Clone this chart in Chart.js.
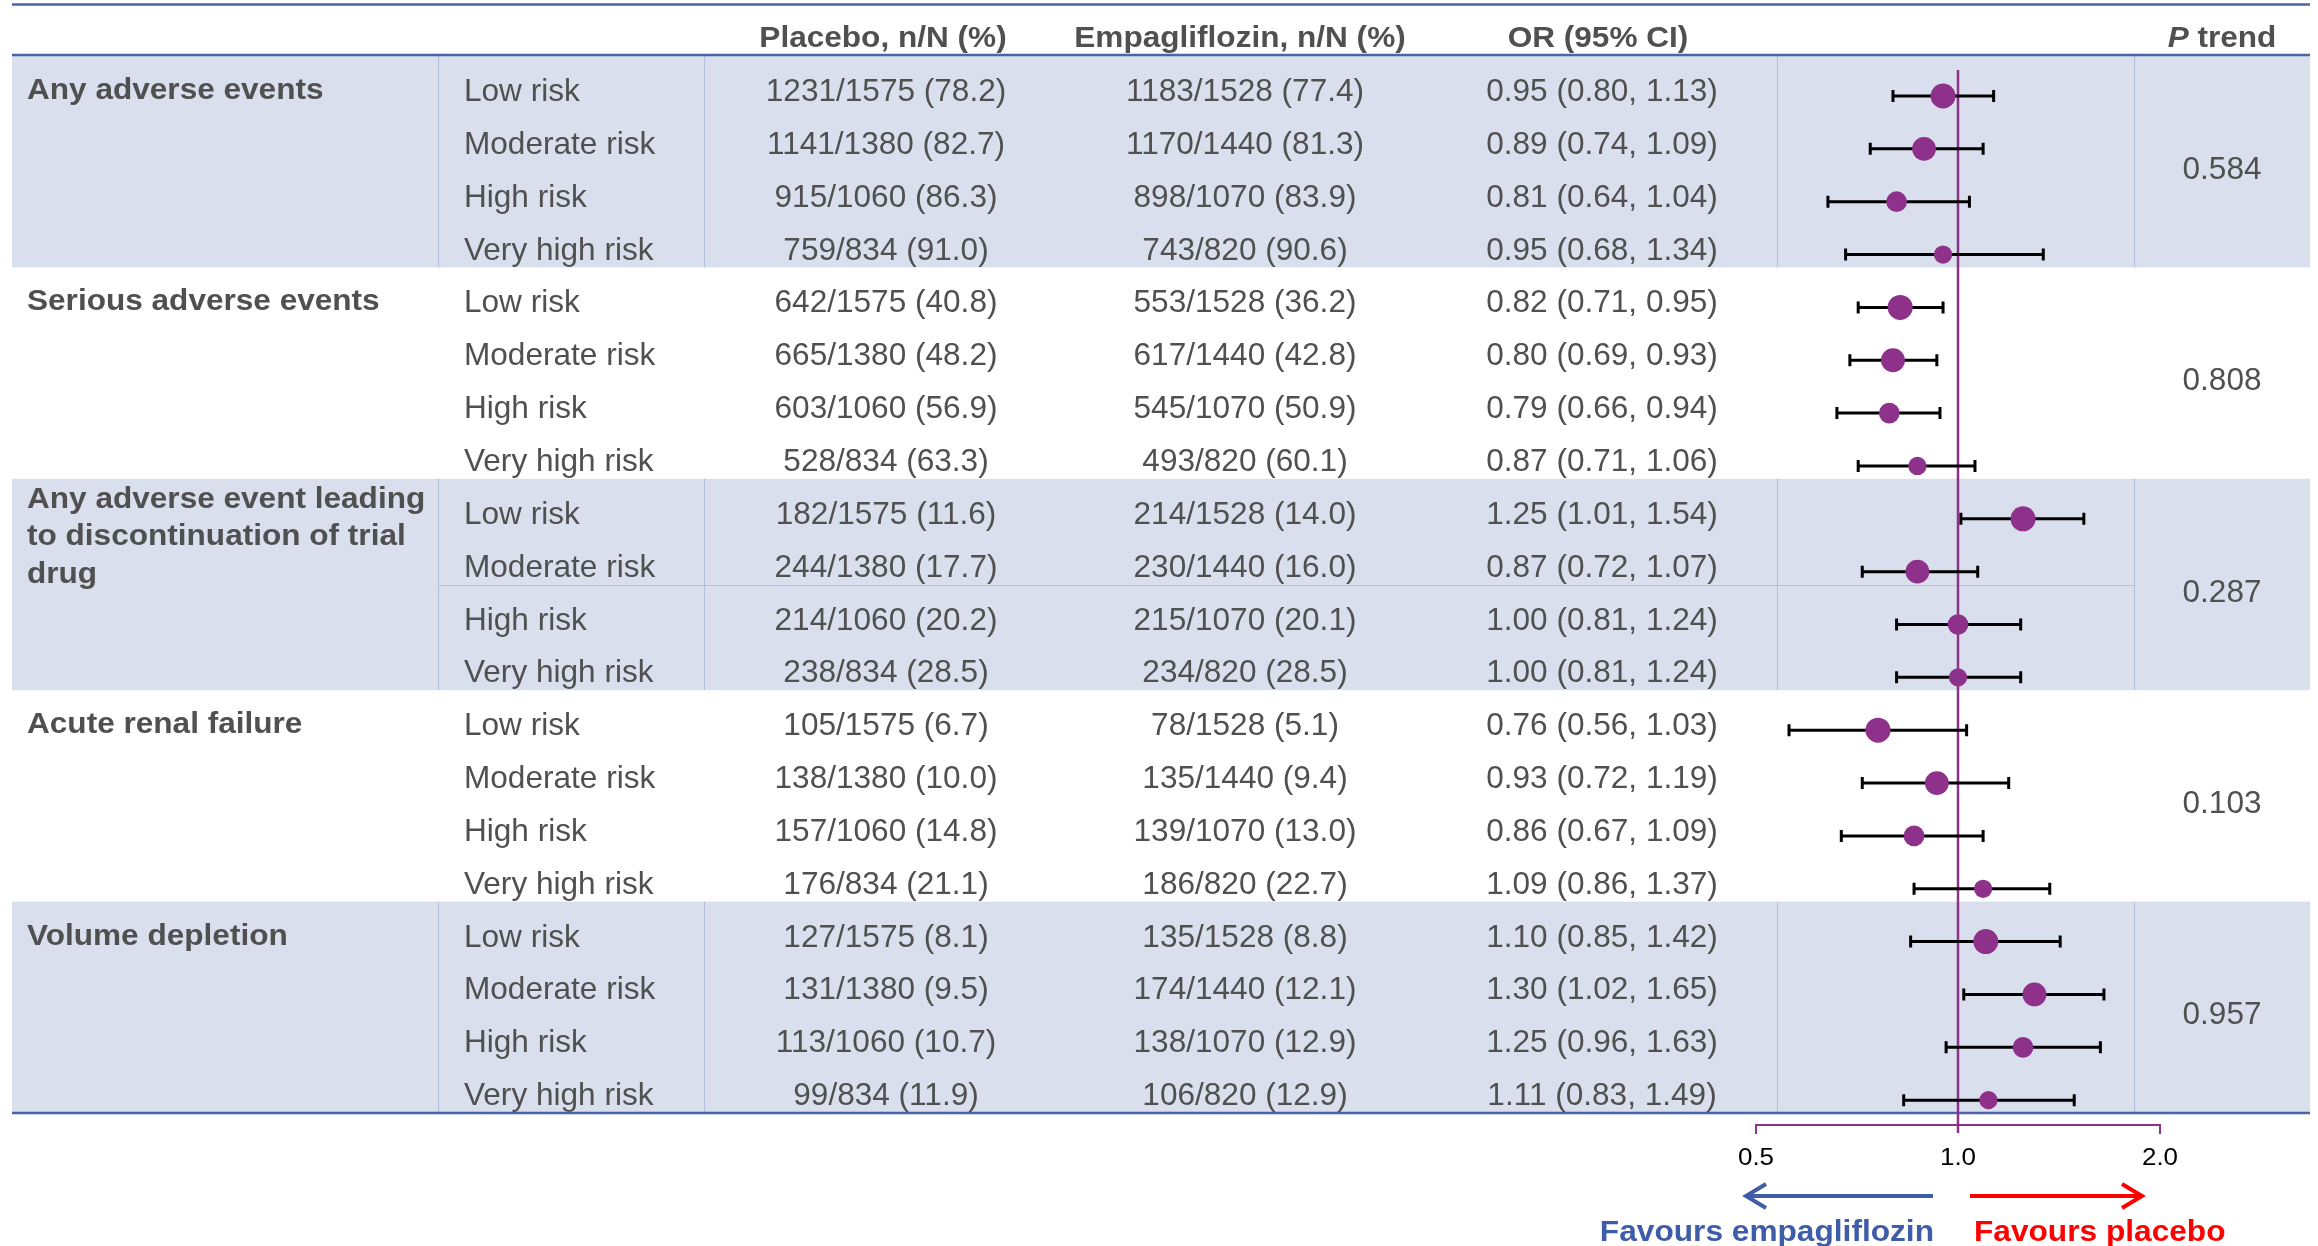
<!DOCTYPE html>
<html>
<head>
<meta charset="utf-8">
<title>Adverse events by baseline risk group</title>
<style>
  html, body { margin: 0; padding: 0; background: #ffffff; overflow: hidden; }
  canvas { display: block; }
</style>
<script src="https://cdn.jsdelivr.net/npm/chart.js@4.4.1/dist/chart.umd.min.js"></script>
</head>
<body>
<canvas id="forest" width="2318" height="1246"></canvas>
<script>
// ---- Data -------------------------------------------------------------
const outcomes = [
  ['Any adverse events'],
  ['Serious adverse events'],
  ['Any adverse event leading', 'to discontinuation of trial', 'drug'],
  ['Acute renal failure'],
  ['Volume depletion']
];
const riskGroups = ['Low risk', 'Moderate risk', 'High risk', 'Very high risk'];

// patients per risk group in each arm
const placeboTotal = [1575, 1380, 1060, 834];
const empaTotal = [1528, 1440, 1070, 820];

// events, one entry per outcome x risk group (outcome-major order)
const placeboEvents = [1231, 1141, 915, 759,  642, 665, 603, 528,  182, 244, 214, 238,  105, 138, 157, 176,  127, 131, 113, 99];
const placeboPct    = [78.2, 82.7, 86.3, 91.0,  40.8, 48.2, 56.9, 63.3,  11.6, 17.7, 20.2, 28.5,  6.7, 10.0, 14.8, 21.1,  8.1, 9.5, 10.7, 11.9];
const empaEvents    = [1183, 1170, 898, 743,  553, 617, 545, 493,  214, 230, 215, 234,  78, 135, 139, 186,  135, 174, 138, 106];
const empaPct       = [77.4, 81.3, 83.9, 90.6,  36.2, 42.8, 50.9, 60.1,  14.0, 16.0, 20.1, 28.5,  5.1, 9.4, 13.0, 22.7,  8.8, 12.1, 12.9, 12.9];

const orEstimate = [0.95, 0.89, 0.81, 0.95,  0.82, 0.80, 0.79, 0.87,  1.25, 0.87, 1.00, 1.00,  0.76, 0.93, 0.86, 1.09,  1.10, 1.30, 1.25, 1.11];
const orLower    = [0.80, 0.74, 0.64, 0.68,  0.71, 0.69, 0.66, 0.71,  1.01, 0.72, 0.81, 0.81,  0.56, 0.72, 0.67, 0.86,  0.85, 1.02, 0.96, 0.83];
const orUpper    = [1.13, 1.09, 1.04, 1.34,  0.95, 0.93, 0.94, 1.06,  1.54, 1.07, 1.24, 1.24,  1.03, 1.19, 1.09, 1.37,  1.42, 1.65, 1.63, 1.49];

const pTrend = ['0.584', '0.808', '0.287', '0.103', '0.957'];
const axisTicks = [0.5, 1.0, 2.0];

// ---- Styling ----------------------------------------------------------
const INK = '#505050';
const BAND = '#D9DFEC';
const RULE = '#4A64A8';
const DIVIDER = '#B3BEDB';
const PURPLE = '#8E318A';
const BLUE = '#3F5CA8';
const RED = '#FF0000';
const FONT = '"Liberation Sans", Arial, Helvetica, sans-serif';

const N_ROWS = outcomes.length * riskGroups.length;
const MARK_OFFSET = 0.757;       // marker position inside a row (row units)
const MAX_RADIUS = 12.5;         // radius for the largest subgroup

// column anchors
const COL = {
  tableLeft: 12, tableRight: 2310,
  outcomeX: 27, div1: 438, riskX: 464, div2: 704,
  placeboX: 886, empaX: 1245, orX: 1602,
  div3: 1777, div4: 2134, pX: 2222
};

const rowLabels = [];
const points = [];
const radii = [];
const largestN = Math.max(...placeboTotal.map((n, i) => n + empaTotal[i]));
outcomes.forEach((o, oi) => {
  riskGroups.forEach((g, gi) => {
    const r = oi * riskGroups.length + gi;
    rowLabels.push(g);
    points.push({ x: orEstimate[r], y: r + MARK_OFFSET });
    // marker area proportional to the subgroup's total patients
    radii.push(MAX_RADIUS * Math.sqrt((placeboTotal[gi] + empaTotal[gi]) / largestN));
  });
});

function txt(ctx, s, x, y, o) {
  ctx.save();
  ctx.font = (o.italic ? 'italic ' : '') + (o.bold ? 'bold ' : '') + o.size + 'px ' + FONT;
  ctx.fillStyle = o.color || INK;
  ctx.textBaseline = 'alphabetic';
  ctx.textAlign = o.align || 'left';
  ctx.translate(x, y);
  ctx.scale(o.sx || 1, 1);
  ctx.fillText(s, 0, 0);
  ctx.restore();
}
const REG = { size: 30.5, sx: 1.035 };
const BOLD = { size: 29.5, sx: 1.07, bold: true };

const tablePlugin = {
  id: 'forestTable',
  beforeDatasetsDraw(chart) {
    const ctx = chart.ctx;
    const xs = chart.scales.x, ys = chart.scales.y;
    const rowTop = i => ys.getPixelForValue(i);
    const top = rowTop(0), bottom = rowTop(N_ROWS);
    const W = chart.width;

    ctx.save();
    ctx.fillStyle = '#ffffff';
    ctx.fillRect(0, 0, W, chart.height);

    // shaded outcome bands with their column dividers
    outcomes.forEach((o, oi) => {
      const y0 = rowTop(oi * 4), y1 = rowTop(oi * 4 + 4);
      if (oi % 2 === 0) {
        ctx.fillStyle = BAND;
        ctx.fillRect(COL.tableLeft, y0, COL.tableRight - COL.tableLeft, y1 - y0);
        ctx.strokeStyle = DIVIDER;
        ctx.lineWidth = 1;
        [COL.div1, COL.div2, COL.div3, COL.div4].forEach(dx => {
          ctx.beginPath();
          ctx.moveTo(dx + 0.5, y0);
          ctx.lineTo(dx + 0.5, y1);
          ctx.stroke();
        });
      }
    });
    // split line inside the discontinuation block
    {
      const yy = Math.round(rowTop(10)) + 0.5;
      ctx.strokeStyle = DIVIDER;
      ctx.lineWidth = 1;
      ctx.beginPath();
      ctx.moveTo(COL.div1, yy);
      ctx.lineTo(COL.div4, yy);
      ctx.stroke();
    }

    // horizontal rules
    ctx.strokeStyle = RULE;
    ctx.lineWidth = 2.5;
    [4.5, top - 1, bottom].forEach(yy => {
      ctx.beginPath();
      ctx.moveTo(COL.tableLeft, yy);
      ctx.lineTo(COL.tableRight, yy);
      ctx.stroke();
    });

    // header
    const hy = 46.5;
    txt(ctx, 'Placebo, n/N (%)', COL.placeboX - 3, hy, Object.assign({ align: 'center' }, BOLD));
    txt(ctx, 'Empagliflozin, n/N (%)', 1240, hy, Object.assign({ align: 'center' }, BOLD));
    txt(ctx, 'OR (95% CI)', 1598, hy, Object.assign({ align: 'center' }, BOLD));
    ctx.font = 'italic bold ' + BOLD.size + 'px ' + FONT;
    const wP = ctx.measureText('P').width * BOLD.sx;
    ctx.font = 'bold ' + BOLD.size + 'px ' + FONT;
    const wT = ctx.measureText(' trend').width * BOLD.sx;
    const px0 = COL.pX - (wP + wT) / 2;
    txt(ctx, 'P', px0, hy, Object.assign({ italic: true }, BOLD));
    txt(ctx, ' trend', px0 + wP, hy, BOLD);

    // outcome labels and P trend values
    outcomes.forEach((lines, oi) => {
      const y0 = rowTop(oi * 4), y1 = rowTop(oi * 4 + 4);
      if (lines.length === 1) {
        txt(ctx, lines[0], COL.outcomeX, y0 + 43, BOLD);
      } else {
        lines.forEach((ln, li) => txt(ctx, ln, COL.outcomeX, y0 + 29 + li * 37.5, BOLD));
      }
      txt(ctx, pTrend[oi], COL.pX, (y0 + y1) / 2 + 17, Object.assign({ align: 'center' }, REG));
    });

    // subgroup rows
    for (let r = 0; r < N_ROWS; r++) {
      const gi = r % riskGroups.length;
      const by = rowTop(r) + 45;
      txt(ctx, rowLabels[r], COL.riskX, by, REG);
      txt(ctx, placeboEvents[r] + '/' + placeboTotal[gi] + ' (' + placeboPct[r].toFixed(1) + ')',
          COL.placeboX, by, Object.assign({ align: 'center' }, REG));
      txt(ctx, empaEvents[r] + '/' + empaTotal[gi] + ' (' + empaPct[r].toFixed(1) + ')',
          COL.empaX, by, Object.assign({ align: 'center' }, REG));
      txt(ctx, orEstimate[r].toFixed(2) + ' (' + orLower[r].toFixed(2) + ', ' + orUpper[r].toFixed(2) + ')',
          COL.orX, by, Object.assign({ align: 'center' }, REG));
    }

    // axis bracket and tick labels
    const x1 = xs.getPixelForValue(1);
    const xa = xs.getPixelForValue(axisTicks[0]);
    const xb = xs.getPixelForValue(axisTicks[axisTicks.length - 1]);
    const axY = bottom + 12;
    ctx.strokeStyle = PURPLE;
    ctx.lineWidth = 2;
    ctx.beginPath();
    ctx.moveTo(xa, axY + 9);
    ctx.lineTo(xa, axY);
    ctx.lineTo(xb, axY);
    ctx.lineTo(xb, axY + 9);
    ctx.stroke();
    axisTicks.forEach(t => {
      txt(ctx, t.toFixed(1), xs.getPixelForValue(t), bottom + 52,
          { size: 24.5, sx: 1.06, align: 'center', color: '#000000' });
    });

    // reference line at OR = 1
    ctx.strokeStyle = PURPLE;
    ctx.lineWidth = 2.5;
    ctx.beginPath();
    ctx.moveTo(x1, top + 14);
    ctx.lineTo(x1, axY + 8);
    ctx.stroke();

    // direction arrows
    const arY = bottom + 83;
    function arrow(from, to, color) {
      const dir = Math.sign(to - from);
      ctx.strokeStyle = color;
      ctx.lineWidth = 4;
      ctx.lineCap = 'butt';
      ctx.beginPath();
      ctx.moveTo(from, arY);
      ctx.lineTo(to - dir * 1, arY);
      ctx.stroke();
      ctx.lineJoin = 'miter';
      ctx.beginPath();
      ctx.moveTo(to - dir * 20, arY - 12);
      ctx.lineTo(to, arY);
      ctx.lineTo(to - dir * 20, arY + 12);
      ctx.stroke();
    }
    arrow(x1 - 25, x1 - 212, BLUE);
    arrow(x1 + 12, x1 + 184, RED);
    txt(ctx, 'Favours empagliflozin', x1 - 24, bottom + 128, Object.assign({}, BOLD, { align: 'right', color: BLUE, size: 30, sx: 1.055 }));
    txt(ctx, 'Favours placebo', x1 + 16, bottom + 128, Object.assign({}, BOLD, { align: 'left', color: RED, size: 30, sx: 1.055 }));

    // confidence intervals
    ctx.strokeStyle = '#000000';
    ctx.lineWidth = 3;
    for (let r = 0; r < N_ROWS; r++) {
      const cy = ys.getPixelForValue(r + MARK_OFFSET);
      const lo = xs.getPixelForValue(orLower[r]);
      const hi = xs.getPixelForValue(orUpper[r]);
      ctx.beginPath();
      ctx.moveTo(lo, cy);
      ctx.lineTo(hi, cy);
      ctx.moveTo(lo, cy - 6);
      ctx.lineTo(lo, cy + 6);
      ctx.moveTo(hi, cy - 6);
      ctx.lineTo(hi, cy + 6);
      ctx.stroke();
    }
    ctx.restore();
  }
};

new Chart(document.getElementById('forest'), {
  type: 'scatter',
  data: {
    datasets: [{
      label: 'Odds ratio',
      data: points,
      pointRadius: radii,
      pointHoverRadius: radii,
      pointBackgroundColor: PURPLE,
      pointBorderWidth: 0,
      pointBorderColor: PURPLE
    }]
  },
  options: {
    responsive: false,
    devicePixelRatio: 1,
    animation: false,
    events: [],
    layout: { padding: { left: 1756, right: 158, top: 56, bottom: 133 } },
    clip: false,
    scales: {
      x: { type: 'logarithmic', min: 0.5, max: 2, display: false },
      y: { type: 'linear', min: 0, max: N_ROWS, reverse: true, display: false }
    },
    plugins: { legend: { display: false }, tooltip: { enabled: false } }
  },
  plugins: [tablePlugin]
});
</script>
</body>
</html>
